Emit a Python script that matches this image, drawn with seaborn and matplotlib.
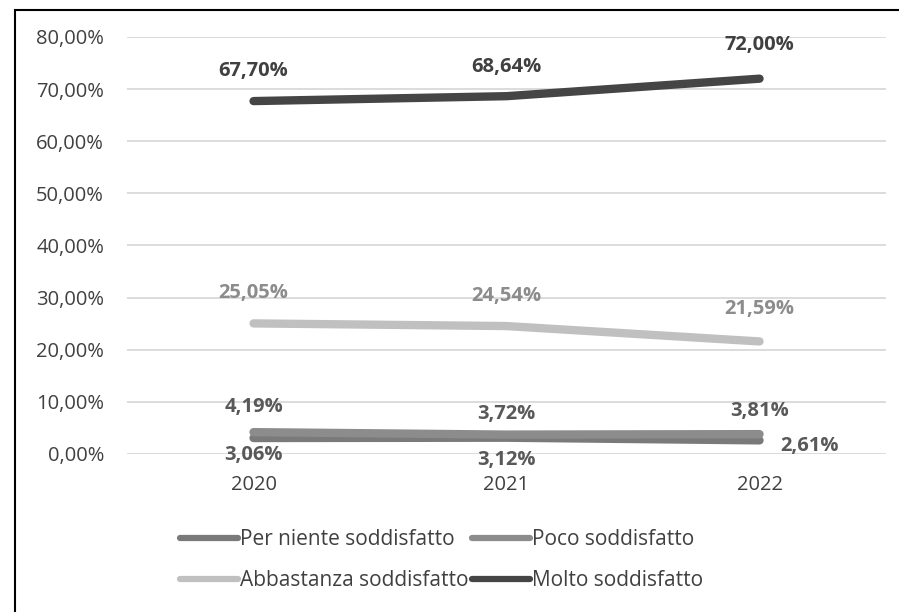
import numpy as np
import pandas as pd
import seaborn as sns
import matplotlib.pyplot as plt
from matplotlib.patches import Rectangle

# Data
anni = ["2020", "2021", "2022"]
serie = ["Per niente soddisfatto", "Poco soddisfatto",
         "Abbastanza soddisfatto", "Molto soddisfatto"]
per_niente = [3.06, 3.12, 2.61]
poco = [4.19, 3.72, 3.81]
abbastanza = [25.05, 24.54, 21.59]
molto = [67.70, 68.64, 72.00]

colori = ["#7a7a7a", "#8c8c8c", "#c0c0c0", "#454545"]
colori_etichette = ["#595959", "#595959", "#8c8c8c", "#404040"]

valori = [per_niente, poco, abbastanza, molto]
df = pd.DataFrame({
    "anno": np.tile(anni, len(serie)),
    "valore": np.concatenate(valori),
    "serie": np.repeat(serie, len(anni)),
})

sns.set_theme(style="white")
plt.rcParams['font.family'] = ['Open Sans', 'DejaVu Sans']

fig = plt.figure(figsize=(8.99, 6.12), dpi=100)
ax = fig.add_axes([0.1413, 0.2582, 0.8443, 0.6814])

sns.lineplot(data=df, x="anno", y="valore", hue="serie", hue_order=serie,
             palette=colori, linewidth=6, solid_capstyle="round", ax=ax)

# data labels: (dx, dy) offsets in points
offsets = {
    0: [(0, -12), (0, -16), (36, -4)],
    1: [(0, 18), (0, 15), (0, 17)],
    2: [(0, 22), (0, 22), (0, 23)],
    3: [(0, 22), (0, 21), (0, 24)],
}
for i, vals in enumerate(valori):
    for j, v in enumerate(vals):
        dx, dy = offsets[i][j]
        ax.annotate(f"{v:.2f}%".replace(".", ","), (j, v), xytext=(dx, dy),
                    textcoords="offset points", ha="center", va="center",
                    fontsize=14.5, fontweight="bold", color=colori_etichette[i])

ax.set_ylim(0, 80)
ax.set_xlim(-0.5, 2.5)
ax.set_yticks(np.arange(0, 81, 10))
ax.set_yticklabels([f"{t:.2f}%".replace(".", ",") for t in np.arange(0, 81, 10)])
ax.yaxis.grid(True, color="#d9d9d9", linewidth=1.3)
ax.tick_params(axis="y", labelsize=14.5, labelcolor="#404040", pad=16.5, length=0)
ax.tick_params(axis="x", labelsize=14.5, labelcolor="#404040", pad=15, length=0)
ax.set_xlabel("")
ax.set_ylabel("")
for s in ax.spines.values():
    s.set_visible(False)

handles, labels = ax.get_legend_handles_labels()
ax.get_legend().remove()
for h in handles:
    h.set_linewidth(4.5)
order = [0, 2, 1, 3]
fig.legend([handles[k] for k in order], [labels[k] for k in order],
           loc="center left", bbox_to_anchor=(180 / 899, 1 - 560 / 612),
           ncol=2, frameon=False, borderpad=0, borderaxespad=0,
           fontsize=15, labelcolor="#404040", handlelength=2.8,
           handletextpad=0.1, columnspacing=0.15, labelspacing=0.95)

# outer border
fig.patches.append(Rectangle((15 / 899, -0.1), 1.1, 1 - 10 / 612 + 0.1,
                             transform=fig.transFigure, fill=False,
                             edgecolor="black", linewidth=1.5))

fig.savefig("out.png", dpi=100)
